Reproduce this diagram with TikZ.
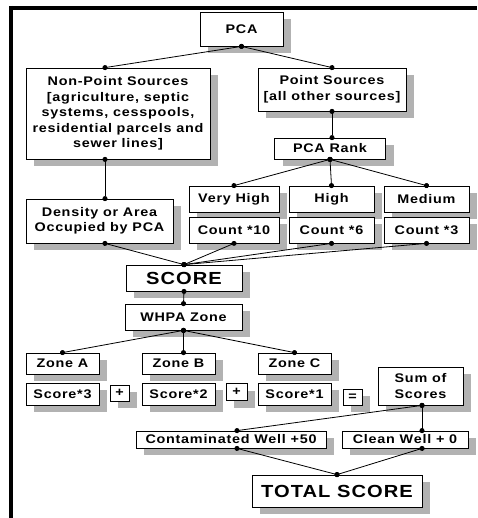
\documentclass[tikz,border=0pt]{standalone}
\usepackage{fontspec}
\setmainfont{Liberation Sans}[LetterSpace=6, FakeStretch=1.15]
\usetikzlibrary{arrows.meta,shadows}

\begin{document}
\begin{tikzpicture}[
		x=1pt, y=-1pt,
		box/.style={draw, fill=white, line width=0.8pt, inner sep=0pt, align=center,
			font=\fontsize{12.5}{15.5}\selectfont\bfseries,
			drop shadow={shadow xshift=8pt, shadow yshift=-7pt, fill=gray!60, opacity=1}},
		bigbox/.style={box, font=\fontsize{17.5}{20}\selectfont\bfseries},
		link/.style={{Circle[length=5pt]}-{Circle[length=5pt]}, line width=0.8pt,
			shorten <=-2.5pt, shorten >=-2.5pt}
		]
		\useasboundingbox (0,0) rectangle (477,518);
		% frame
		\draw[line width=4pt] (9,8) -- (477,8);
		\draw[line width=4pt] (11,6) -- (11,518);

		\node[box, minimum width=83pt, minimum height=34pt] (pca) at (241.5,29) {PCA};
		\node[box, minimum width=184pt, minimum height=91pt] (nps) at (118,113.5)
			{Non-Point Sources\\{}[agriculture, septic\\systems, cesspools,\\residential parcels and\\sewer lines]};
		\node[box, minimum width=148pt, minimum height=43pt] (ps) at (332,89.5)
			{Point Sources\\{}[all other sources]};
		\node[box, minimum width=111pt, minimum height=21pt] (rank) at (330,148.5) {PCA Rank};

		\node[box, minimum width=90pt, minimum height=26pt] (vhigh) at (234,199) {Very High};
		\node[box, minimum width=85pt, minimum height=26pt] (high) at (331.5,199) {High};
		\node[box, minimum width=85pt, minimum height=26pt] (med) at (426.5,199) {Medium};
		\node[box, minimum width=90pt, minimum height=26pt] (c10) at (234,230) {Count *10};
		\node[box, minimum width=85pt, minimum height=26pt] (c6) at (331.5,230) {Count *6};
		\node[box, minimum width=85pt, minimum height=26pt] (c3) at (426.5,230) {Count *3};
		\node[box, minimum width=147pt, minimum height=44pt] (dens) at (99.5,221)
			{Density or Area\\Occupied by PCA};

		\node[bigbox, minimum width=116pt, minimum height=26pt] (score) at (184,278) {SCORE};
		\node[box, minimum width=117pt, minimum height=26pt] (whpa) at (183.5,317) {WHPA Zone};

		\node[box, minimum width=73pt, minimum height=21pt] (za) at (62.5,363.5) {Zone A};
		\node[box, minimum width=73pt, minimum height=21pt] (zb) at (178.5,363.5) {Zone B};
		\node[box, minimum width=73pt, minimum height=21pt] (zc) at (294.5,363.5) {Zone C};
		\node[box, minimum width=73pt, minimum height=22pt] (s3) at (62.5,394) {Score*3};
		\node[box, minimum width=19pt, minimum height=16pt] (plus1) at (119.5,393) {+};
		\node[box, minimum width=21pt, minimum height=17pt] (plus2) at (236.5,392) {+};
		\node[box, minimum width=73pt, minimum height=22pt] (s2) at (178.5,394) {Score*2};
		\node[box, minimum width=73pt, minimum height=22pt] (s1) at (294.5,394) {Score*1};
		\node[box, minimum width=19pt, minimum height=16pt] (eq) at (352.5,397) {=};
		\node[box, minimum width=85pt, minimum height=38pt] (sum) at (420.5,386) {Sum of\\Scores};

		\node[box, minimum width=190pt, minimum height=17pt] (cont) at (231,439.5) {Contaminated Well +50};
		\node[box, minimum width=126pt, minimum height=17pt] (clean) at (405,439.5) {Clean Well + 0};
		\node[bigbox, minimum width=170pt, minimum height=32pt] (total) at (337,491) {TOTAL SCORE};

		\draw[link] (pca.south) -- ([xshift=-13pt]nps.north);
		\draw[link] (pca.south) -- (ps.north);
		\draw[link] (ps.south) -- (ps.south |- rank.north);
		\draw[link] (rank.south) -- (vhigh.north);
		\draw[link] (rank.south) -- (high.north);
		\draw[link] (rank.south) -- (med.north);
		\draw[link] ([xshift=-13pt]nps.south) -- ([xshift=-13pt]nps.south |- dens.north);
		\draw[link] ([xshift=5.5pt]dens.south) -- (score.north);
		\draw[link] (c10.south) -- (score.north);
		\draw[link] (c6.south) -- (score.north);
		\draw[link] (c3.south) -- (score.north);
		\draw[link] (score.south) -- (whpa.north);
		\draw[link] (whpa.south) -- (za.north);
		\draw[link] (whpa.south) -- (whpa.south |- zb.north);
		\draw[link] (whpa.south) -- (zc.north);
		\draw[link] ([xshift=1.5pt]sum.south) -- ([xshift=6pt]cont.north);
		\draw[link] ([xshift=1.5pt]sum.south) -- ([xshift=1.5pt]sum.south |- clean.north);
		\draw[link] ([xshift=6pt]cont.south) -- (total.north);
		\draw[link] ([xshift=1.5pt]sum.south |- clean.south) -- (total.north);
	\end{tikzpicture}
\end{document}
